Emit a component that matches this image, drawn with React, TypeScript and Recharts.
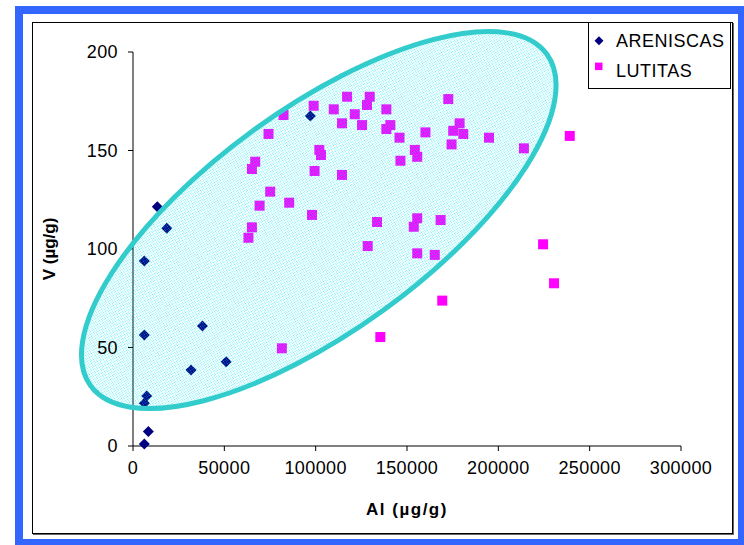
import React from 'react';
import { ScatterChart, Scatter, XAxis, YAxis, Legend } from 'recharts';

const FONT = '"Liberation Sans", Arial, Helvetica, sans-serif';

// Axis ticks
const xTicks = [0, 50000, 100000, 150000, 200000, 250000, 300000];
const yTicks = [0, 50, 100, 150, 200];

// Series names
const seriesNames = ['ARENISCAS', 'LUTITAS'];

// ARENISCAS (Al, V)
const areniscasAl = [13300, 18500, 6200, 38000, 6200, 51000, 31800, 7500, 6200, 8400, 6200, 97100];
const areniscasV = [121.5, 110.5, 93.9, 60.9, 56.3, 42.8, 38.6, 25.4, 21.7, 7.3, 1, 167.5];

// LUTITAS (Al, V)
const lutitasAl = [
  63200, 65100, 65100, 66900, 69300, 74200, 75100, 81500, 82400, 85500,
  98000, 98900, 99400, 102000, 102900, 109900, 114400, 114400, 117200, 121400,
  125400, 128100, 128500, 129600, 133600, 135400, 138700, 138700, 140900, 145900,
  146400, 153700, 154300, 155600, 155600, 155600, 160100, 165200, 168400, 169300,
  172600, 174400, 175300, 178800, 180800, 194900, 214000, 224500, 230500, 239100,
];
const lutitasV = [
  105.7, 111, 140.6, 144.3, 122, 158.4, 129.1, 49.6, 168, 123.5,
  117.3, 172.7, 139.6, 150.3, 147.7, 170.9, 163.8, 137.6, 177.3, 168.4,
  162.9, 173.1, 101.5, 177.3, 113.7, 55.3, 170.9, 160.9, 162.9, 156.5,
  144.8, 111.3, 150.3, 146.8, 115.6, 97.8, 159.2, 97, 114.7, 73.8,
  176.1, 153.1, 160, 163.8, 158.4, 156.5, 151.1, 102.4, 82.6, 157.4,
];

// Grouping ellipse: centre in data units
const ellipseCenterAl = [101700];
const ellipseCenterV = [114.7];

const areniscas = areniscasAl.map((x, i) => ({ x, y: areniscasV[i] }));
const lutitas = lutitasAl.map((x, i) => ({ x, y: lutitasV[i] }));
const ellipseData = ellipseCenterAl.map((x, i) => ({ x, y: ellipseCenterV[i] }));

const NAVY = '#000080';
const MAGENTA = '#ff00ff';
const TEAL = '#33cccc';

const Diamond = (props: any) => {
  const { cx, cy } = props;
  if (cx == null || cy == null) return null;
  const r = 5.5;
  return <polygon points={`${cx},${cy - r} ${cx + r},${cy} ${cx},${cy + r} ${cx - r},${cy}`} fill={NAVY} />;
};

const Square = (props: any) => {
  const { cx, cy } = props;
  if (cx == null || cy == null) return null;
  const s = 10;
  return <rect x={cx - s / 2} y={cy - s / 2} width={s} height={s} fill={MAGENTA} />;
};

const EllipseShape = (props: any) => {
  const { cx, cy } = props;
  if (cx == null || cy == null) return null;
  return (
    <g>
      <defs>
        <pattern id="hatchCyan" patternUnits="userSpaceOnUse" width={2} height={2}>
          <rect x={0} y={0} width={1} height={1} fill="#00e6f2" fillOpacity={0.6} />
        </pattern>
      </defs>
      <ellipse
        cx={cx}
        cy={cy}
        rx={282}
        ry={111}
        transform={`rotate(-36, ${cx}, ${cy})`}
        fill="url(#hatchCyan)"
        stroke={TEAL}
        strokeWidth={5}
      />
    </g>
  );
};

const renderLegend = (props: any) => {
  const items = (props.payload || [])
    .map((p: any) => p.value)
    .filter((v: any) => seriesNames.includes(v));
  const names = items.length ? items : seriesNames;
  return (
    <svg width={143} height={67} style={{ display: 'block' }}>
      <rect x={0.5} y={0.5} width={142} height={66} fill="#fff" stroke="#000" />
      {names.map((name: string, i: number) => {
        const yMid = i === 0 ? 18.7 : 44.3;
        const baseline = i === 0 ? 24.7 : 55.3;
        return (
          <g key={name}>
            {i === 0 ? (
              <polygon
                points={`11,${yMid - 4.5} 15.5,${yMid} 11,${yMid + 4.5} 6.5,${yMid}`}
                fill={NAVY}
              />
            ) : (
              <rect x={7} y={yMid - 3.7} width={7.5} height={7.5} fill={MAGENTA} />
            )}
            <text
              x={28}
              y={baseline}
              fontFamily={FONT}
              fontSize={18}
              letterSpacing={0.5}
              fill="#000"
            >
              {name}
            </text>
          </g>
        );
      })}
    </svg>
  );
};

export default function App() {
  return (
    <div
      style={{
        position: 'absolute',
        left: 0,
        top: 0,
        width: 744,
        height: 545,
        overflow: 'hidden',
        background: '#fff',
      }}
    >
      <div
        style={{
          position: 'absolute',
          left: 15,
          top: 6,
          width: 731,
          height: 541,
          border: '8px solid #3366ff',
          boxSizing: 'border-box',
        }}
      />
      <div
        style={{
          position: 'absolute',
          left: 32,
          top: 22,
          width: 701,
          height: 512,
          border: '1px solid #000',
          boxShadow: '1px 1px 0 #666',
          boxSizing: 'border-box',
        }}
      />
      <div style={{ position: 'absolute', left: 0, top: 0 }}>
        <ScatterChart
          width={744}
          height={545}
          margin={{ top: 52, right: 63, bottom: 69, left: 73 }}
        >
          <XAxis
            type="number"
            dataKey="x"
            domain={[0, 300000]}
            ticks={xTicks}
            interval={0}
            height={30}
            stroke="#000"
            tickSize={5}
            tickMargin={10}
            tick={{ fill: '#000', fontSize: 18, fontFamily: FONT, letterSpacing: 0.4 }}
          />
          <YAxis
            type="number"
            dataKey="y"
            domain={[0, 200]}
            ticks={yTicks}
            interval={0}
            width={60}
            stroke="#000"
            tickSize={5}
            tickMargin={10}
            tick={{ fill: '#000', fontSize: 18, fontFamily: FONT, letterSpacing: 0.4 }}
          />
          <Legend
            layout="horizontal"
            verticalAlign="middle"
            align="center"
            content={renderLegend}
            wrapperStyle={{ left: 588, top: 22, width: 143, height: 67 }}
          />
          <Scatter
            name={seriesNames[0]}
            data={areniscas}
            fill={NAVY}
            shape={Diamond}
            isAnimationActive={false}
          />
          <Scatter
            name={seriesNames[1]}
            data={lutitas}
            fill={MAGENTA}
            shape={Square}
            isAnimationActive={false}
          />
          <Scatter
            name="ellipse"
            data={ellipseData}
            legendType="none"
            shape={EllipseShape}
            isAnimationActive={false}
          />
          <text
            x={407}
            y={515}
            textAnchor="middle"
            fontFamily={FONT}
            fontWeight="bold"
            fontSize={17}
            letterSpacing={1.5}
            fill="#000"
          >
            Al (µg/g)
          </text>
          <text
            x={55}
            y={249}
            transform="rotate(-90, 55, 249)"
            textAnchor="middle"
            fontFamily={FONT}
            fontWeight="bold"
            fontSize={17}
            fill="#000"
          >
            V (µg/g)
          </text>
        </ScatterChart>
      </div>
    </div>
  );
}
